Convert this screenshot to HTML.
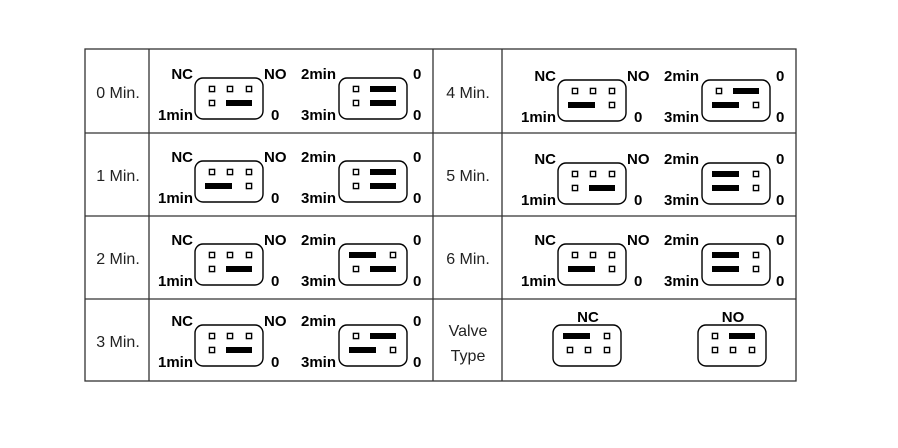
<!DOCTYPE html>
<html><head><meta charset="utf-8"><style>
html,body{margin:0;padding:0;background:#fff;width:898px;height:448px;overflow:hidden}
svg{display:block}
.l{font-family:"Liberation Sans",sans-serif;font-size:16px;fill:#222}
.b{font-family:"Liberation Sans",sans-serif;font-size:15px;font-weight:bold;fill:#000}
</style></head><body>
<svg id="s" width="898" height="448" xmlns="http://www.w3.org/2000/svg">
<g stroke="#333" stroke-width="1.3" fill="none">
<rect x="85" y="49" width="711" height="332"/>
<line x1="85" y1="133" x2="796" y2="133"/>
<line x1="85" y1="216" x2="796" y2="216"/>
<line x1="85" y1="299" x2="796" y2="299"/>
<line x1="149" y1="49" x2="149" y2="381"/>
<line x1="433" y1="49" x2="433" y2="381"/>
<line x1="502" y1="49" x2="502" y2="381"/>
</g>
<text class="l" x="118" y="98" text-anchor="middle">0 Min.</text>
<text class="l" x="118" y="181" text-anchor="middle">1 Min.</text>
<text class="l" x="118" y="264" text-anchor="middle">2 Min.</text>
<text class="l" x="118" y="347" text-anchor="middle">3 Min.</text>
<text class="l" x="468" y="98" text-anchor="middle">4 Min.</text>
<text class="l" x="468" y="181" text-anchor="middle">5 Min.</text>
<text class="l" x="468" y="264" text-anchor="middle">6 Min.</text>
<text class="l" x="468" y="336" text-anchor="middle">Valve</text>
<text class="l" x="468" y="361" text-anchor="middle">Type</text>
<text class="b" x="588" y="322" text-anchor="middle">NC</text>
<text class="b" x="733" y="322" text-anchor="middle">NO</text>
<g id="g"></g>
</svg>
<script>
var out="";
function box(x,y,rows){
  out+='<rect x="'+x+'" y="'+y+'" width="68" height="41" rx="8" fill="none" stroke="#000" stroke-width="1.4"/>';
  var cx=[17,35,54], ry=[11,25];
  rows.forEach(function(r,i){
    var yy=y+ry[i];
    if(r==0){cx.forEach(function(c){sq(x+c,yy);});}
    else if(r==1){sq(x+cx[0],yy);out+='<rect x="'+(x+31)+'" y="'+(yy-3)+'" width="26" height="6" fill="#000"/>';}
    else {out+='<rect x="'+(x+10)+'" y="'+(yy-3)+'" width="27" height="6" fill="#000"/>';sq(x+cx[2],yy);}
  });
}
function sq(x,y){out+='<rect x="'+(x-2.6)+'" y="'+(y-2.6)+'" width="5.2" height="5.2" fill="none" stroke="#000" stroke-width="1.4"/>';}
function t(x,y,s,a){out+='<text class="b" x="'+x+'" y="'+y+'" text-anchor="'+(a||"start")+'">'+s+'</text>';}
function row(x,y,L,R){
  box(x,y,[0,L]);
  t(x-2,y+1,"NC","end");t(x+69,y+1,"NO");t(x-2,y+42,"1min","end");t(x+76,y+42,"0");
  var x2=x+144;
  box(x2,y,R);
  t(x2-3,y+1,"2min","end");t(x2+74,y+1,"0");t(x2-3,y+42,"3min","end");t(x2+74,y+42,"0");
}
var ys=[78,161,244,325];
row(195,ys[0],1,[1,1]);
row(195,ys[1],2,[1,1]);
row(195,ys[2],1,[2,1]);
row(195,ys[3],1,[1,2]);
row(558,ys[0]+2,2,[1,2]);
row(558,ys[1]+2,1,[2,2]);
row(558,ys[2],2,[2,2]);
box(553,325,[2,0]);
box(698,325,[1,0]);
document.getElementById("g").innerHTML=out;
</script>
</body></html>
